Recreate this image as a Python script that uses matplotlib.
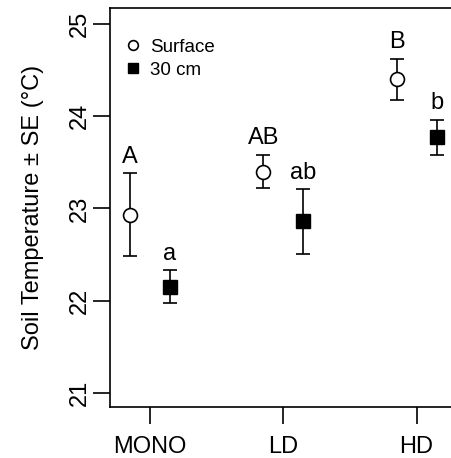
import matplotlib
matplotlib.use("Agg")
import matplotlib.pyplot as plt
from matplotlib.lines import Line2D

plt.rcParams['font.family'] = ['Liberation Sans', 'DejaVu Sans']

groups = ['MONO', 'LD', 'HD']
surface_mean = [22.93, 23.40, 24.40]
surface_se = [0.45, 0.18, 0.22]
deep_mean = [22.15, 22.86, 23.77]
deep_se = [0.18, 0.35, 0.19]
surface_letters = ['A', 'AB', 'B']
deep_letters = ['a', 'ab', 'b']

fig = plt.figure(figsize=(4.51, 4.58), dpi=100)
ax = fig.add_axes([0.2439, 0.1114, 0.7685, 0.8711])

x = [1, 2, 3]
off = 0.15
xs = [i - off for i in x]
xd = [i + off for i in x]

ax.errorbar(xs, surface_mean, yerr=surface_se, fmt='o', mfc='white', mec='black',
            mew=1.2, ms=10, ecolor='black', elinewidth=1.2, capsize=5, capthick=1.2, zorder=3)
ax.errorbar(xd, deep_mean, yerr=deep_se, fmt='s', mfc='black', mec='black',
            ms=10, ecolor='black', elinewidth=1.2, capsize=5, capthick=1.2, zorder=3)

for xi, m, s, t in zip(xs, surface_mean, surface_se, surface_letters):
    ax.annotate(t, (xi, m + s), xytext=(0, 4), textcoords='offset points',
                ha='center', va='bottom', fontsize=17)
for xi, m, s, t in zip(xd, deep_mean, deep_se, deep_letters):
    ax.annotate(t, (xi, m + s), xytext=(0, 4), textcoords='offset points',
                ha='center', va='bottom', fontsize=17)

ax.set_xlim(0.7, 3.3)
ax.set_ylim(20.848, 25.173)
ax.set_xticks(x)
ax.set_xticklabels(groups, fontsize=17)
ax.set_yticks([21, 22, 23, 24, 25])
ax.set_yticklabels(['21', '22', '23', '24', '25'], fontsize=17, rotation=90, va='center')
ax.tick_params(axis='both', length=12, width=1.2, direction='out')
ax.tick_params(axis='y', pad=2)
ax.tick_params(axis='x', pad=9)
for sp in ax.spines.values():
    sp.set_linewidth(1.2)

ax.set_ylabel('Soil Temperature ± SE (°C)', fontsize=17, labelpad=18)

handles = [
    Line2D([], [], marker='o', ls='none', mfc='white', mec='black', mew=1.2, ms=7),
    Line2D([], [], marker='s', ls='none', mfc='black', mec='black', ms=7),
]
ax.legend(handles, ['Surface', '30 cm'], loc='upper left', frameon=False, fontsize=13.5,
          handlelength=1.0, handletextpad=0.4, labelspacing=0.3,
          bbox_to_anchor=(-0.015, 0.97), borderaxespad=0.6)

fig.savefig('out.png', dpi=100)
